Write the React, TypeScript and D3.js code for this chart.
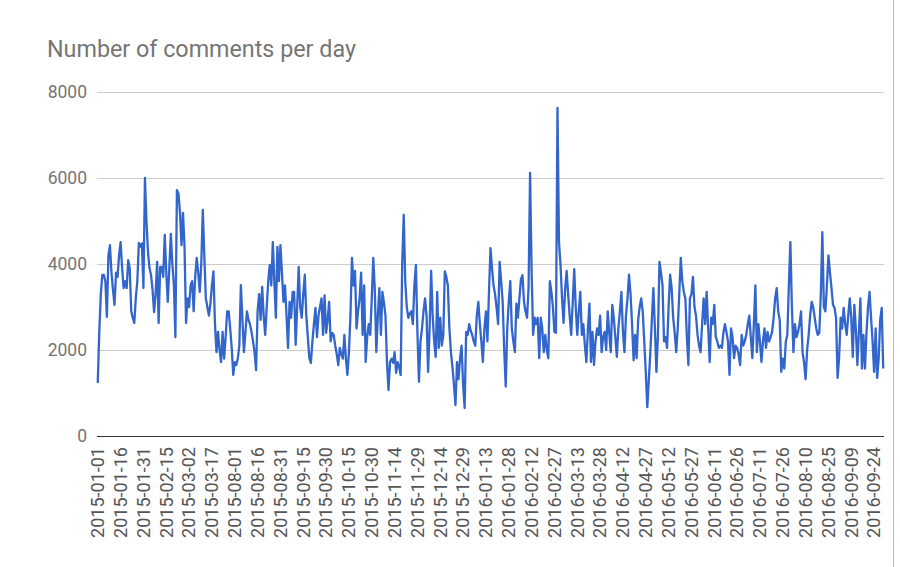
import React from 'react';
import * as d3 from 'd3';

const chartTitle = 'Number of comments per day';

const tickLabels = [
  '2015-01-01', '2015-01-16', '2015-01-31', '2015-02-15', '2015-03-02', '2015-03-17',
  '2015-08-01', '2015-08-16', '2015-08-31', '2015-09-15', '2015-09-30', '2015-10-15',
  '2015-10-30', '2015-11-14', '2015-11-29', '2015-12-14', '2015-12-29', '2016-01-13',
  '2016-01-28', '2016-02-12', '2016-02-27', '2016-03-13', '2016-03-28', '2016-04-12',
  '2016-04-27', '2016-05-12', '2016-05-27', '2016-06-11', '2016-06-26', '2016-07-11',
  '2016-07-26', '2016-08-10', '2016-08-25', '2016-09-09', '2016-09-24',
];
const tickEvery = 15;

const yTicks = [0, 2000, 4000, 6000, 8000];

const comments = [
  1233, 2420, 3300, 3745, 3745, 3600, 2770, 4200, 4440, 3800,
  3400, 3050, 3800, 3700, 4200, 4510, 3900, 3440, 3600, 3440,
  4090, 3900, 2900, 2745, 2630, 3210, 3600, 4490, 4400, 4480,
  3440, 6000, 5000, 4280, 3900, 3745, 3400, 2880, 3300, 4050,
  2630, 3930, 3930, 3700, 4675, 3800, 3120, 3900, 4700, 4000,
  3520, 2300, 5720, 5640, 5200, 4440, 5190, 4400, 2630, 3200,
  3000, 3500, 3600, 2900, 3700, 4140, 3800, 3350, 4000, 5260,
  4200, 3200, 3000, 2800, 3080, 3500, 3830, 2600, 1950, 2420,
  2000, 1720, 2420, 1800, 2300, 2900, 2900, 2500, 2050, 1420,
  1720, 1650, 1800, 2100, 3510, 2750, 1950, 2400, 2900, 2700,
  2600, 2420, 2200, 1950, 1530, 2900, 3300, 2700, 3470, 2800,
  2350, 3000, 3600, 3980, 3500, 4510, 3600, 2750, 4400, 3600,
  4440, 3800, 3120, 3500, 2800, 2050, 3120, 2750, 3350, 3350,
  2120, 3000, 3930, 3000, 2750, 3300, 3750, 2800, 2300, 1810,
  1700, 2200, 2600, 2980, 2300, 2800, 3000, 3200, 2350, 3270,
  2400, 2700, 3120, 2200, 2400, 2350, 2100, 1900, 1650, 2050,
  1900, 1800, 2350, 1800, 1420, 1950, 2800, 4140, 3500, 3840,
  2500, 2900, 3200, 3800, 2350, 3500, 1720, 2300, 2600, 2350,
  3200, 4140, 3400, 1950, 2800, 3440, 2350, 3350, 3100, 2800,
  1720, 1070, 1720, 1800, 1700, 1950, 1470, 1720, 1600, 1420,
  4000, 5140, 3600, 3000, 2750, 2850, 2900, 2600, 3500, 3980,
  2400, 1260, 2200, 2500, 2900, 3200, 2800, 1490, 2500, 3840,
  2800, 2200, 1840, 3350, 2050, 2750, 2100, 2350, 3830, 3700,
  3500, 2500, 1950, 1600, 1190, 720, 1720, 1320, 1800, 2100,
  1200, 650, 2420, 2350, 2600, 2450, 2350, 2200, 2100, 2800,
  3120, 2600, 2200, 1720, 2500, 2900, 2200, 3350, 4370, 3900,
  3500, 3300, 2980, 2600, 4050, 3600, 3120, 2000, 1150, 2500,
  3120, 3600, 2500, 2200, 1950, 3080, 2750, 3200, 3650, 3740,
  3120, 2900, 2750, 3440, 6120, 3830, 2350, 2750, 2600, 2750,
  1810, 2750, 2500, 1950, 2350, 2000, 1810, 3600, 3350, 3000,
  2420, 2400, 7630, 4500, 3980, 3200, 2630, 3400, 3840, 3300,
  2800, 2350, 3100, 3880, 3000, 2350, 2900, 3350, 2350, 2600,
  2100, 1720, 2500, 3080, 1720, 2420, 1650, 2200, 2500, 2350,
  2800, 1950, 2300, 2420, 2000, 2900, 2400, 1950, 3050, 2750,
  2300, 1840, 2500, 2900, 3350, 2420, 1950, 2800, 3200, 3750,
  3300, 2600, 1760, 2350, 1810, 2700, 3000, 3200, 2900, 2200,
  1490, 670, 1300, 1950, 2700, 3440, 2500, 1490, 2350, 4050,
  3800, 3500, 2200, 2300, 2050, 3000, 3750, 3440, 2750, 2400,
  1950, 2500, 3300, 4140, 3600, 3350, 3200, 2300, 1650, 3200,
  3300, 3700, 3000, 2800, 2350, 2100, 1950, 2600, 3200, 2600,
  3350, 2500, 1720, 2750, 2600, 3050, 2300, 2200, 2050, 2100,
  2050, 2400, 2600, 2420, 2200, 1420, 2500, 2300, 1810, 2100,
  2050, 1900, 1650, 2350, 2100, 2200, 2350, 2600, 2800, 2300,
  1810, 2600, 3500, 1950, 2600, 2200, 1720, 2200, 2500, 2050,
  2420, 2200, 2300, 2420, 2750, 3200, 3440, 2900, 2700, 1490,
  1800, 1570, 2200, 2350, 3500, 4510, 3000, 1950, 2600, 2300,
  2420, 2600, 2900, 1950, 1700, 1320, 2000, 2350, 2800, 3120,
  3000, 2750, 2500, 2350, 2400, 3300, 4740, 3000, 2900, 3500,
  4200, 3800, 3440, 3050, 2980, 2750, 1350, 1810, 2750, 2500,
  2980, 2600, 2350, 2800, 3200, 2750, 1840, 3050, 2500, 1650,
  2400, 3200, 1570, 2350, 1570, 2400, 3000, 3350, 2750, 2200,
  1490, 2500, 1350, 1800, 2700, 2980, 1570,
];

export default function App() {
  const W = 900;
  const H = 567;
  const left = 97;
  const right = 884;
  const top = 92;
  const bottom = 436;
  const font = 'Roboto, "Noto Sans", sans-serif';

  const x = d3
    .scaleBand<number>()
    .domain(d3.range(comments.length))
    .range([left, right]);
  const xc = (i: number) => (x(i) as number) + x.bandwidth() / 2;
  const y = d3.scaleLinear().domain([0, 8000]).range([bottom, top]);

  const line = d3
    .line<number>()
    .x((_, i) => xc(i))
    .y((d) => y(d));

  return (
    <div style={{ position: 'absolute', left: 0, top: 0 }}>
      <svg width={W} height={H} style={{ display: 'block', background: '#fff' }}>
        <text x={47} y={57} fontFamily={font} fontSize={23.3} fill="#757575">
          {chartTitle}
        </text>
        {yTicks.map((t) => (
          <g key={t}>
            <line
              x1={left}
              x2={right}
              y1={Math.round(y(t)) + 0.5}
              y2={Math.round(y(t)) + 0.5}
              stroke={t === 0 ? '#333' : '#ccc'}
              strokeWidth={1}
            />
            <text
              x={87}
              y={y(t)}
              dy="0.35em"
              textAnchor="end"
              fontFamily={font}
              fontSize={17.5}
              fill="#757575"
            >
              {t}
            </text>
          </g>
        ))}
        <path
          d={line(comments) || ''}
          fill="none"
          stroke="#3366cc"
          strokeWidth={2.3}
          strokeLinejoin="round"
        />
        {tickLabels.map((lab, k) => {
          const px = xc(k * tickEvery);
          return (
            <text
              key={lab}
              transform={`translate(${px},447) rotate(-90)`}
              dy="0.35em"
              textAnchor="end"
              fontFamily={font}
              fontSize={18}
              fill="#555"
            >
              {lab}
            </text>
          );
        })}
        <line x1={893.5} x2={893.5} y1={0} y2={H} stroke="#bbb" strokeWidth={1} />
      </svg>
    </div>
  );
}
